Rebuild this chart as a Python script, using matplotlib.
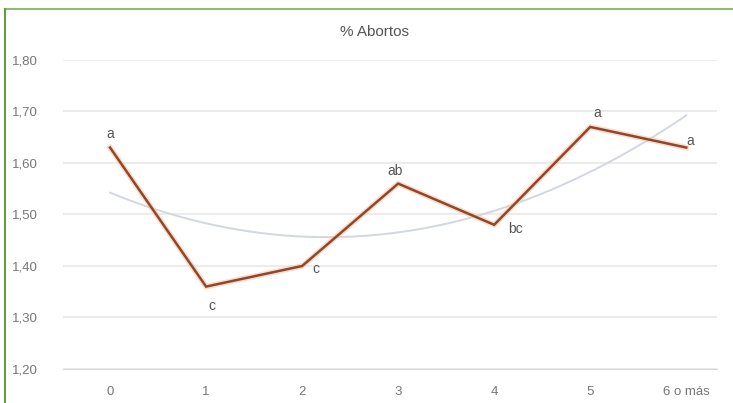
import numpy as np
import matplotlib.pyplot as plt
from matplotlib.lines import Line2D

plt.rcParams['font.family'] = ['Liberation Sans', 'DejaVu Sans']

categories = ["0", "1", "2", "3", "4", "5", "6 o más"]
abortos = [1.63, 1.36, 1.40, 1.56, 1.48, 1.67, 1.63]
letras = ["a", "c", "c", "ab", "bc", "a", "a"]
# label offsets in points (dx, dy)
offsets = [(0, 10), (4, -14), (10, -2), (-2, 9), (15, -3), (5, 10), (3, 5)]
yticks = [1.20, 1.30, 1.40, 1.50, 1.60, 1.70, 1.80]

fig = plt.figure(figsize=(7.33, 4.03), dpi=100)
W, H = 733, 403
ax = fig.add_axes([63 / W, 1 - 369 / H, (717 - 63) / W, (369 - 60) / H])

x = np.arange(len(categories))

# polynomial (order 2) trend line
coef = np.polyfit(x, abortos, 2)
xs = np.linspace(0, 6, 200)
ax.plot(xs, np.polyval(coef, xs), color='#d3d7e0', lw=1.4, zorder=2)

# main series with a soft orange halo
ax.plot(x, abortos, color='#f3c9a8', lw=4, alpha=0.6, zorder=3,
        solid_joinstyle='miter')
ax.plot(x, abortos, color='#93462e', lw=1.8, zorder=4,
        solid_joinstyle='miter')

for xi, yi, txt, (dx, dy) in zip(x, abortos, letras, offsets):
    ax.annotate(txt, (xi, yi), xytext=(dx, dy), textcoords='offset points',
                ha='center', va='center', fontsize=10, color='#555555')

ax.set_xlim(-0.49, 6.32)
ax.set_ylim(1.20, 1.80)
ax.set_yticks(yticks)
ax.set_yticklabels([f"{v:.2f}".replace('.', ',') for v in yticks])
ax.set_xticks(x)
ax.set_xticklabels(categories)
ax.tick_params(length=0, labelsize=9.5, colors='#777777', pad=12)
ax.tick_params(axis='y', pad=37)
for lbl in ax.get_yticklabels():
    lbl.set_horizontalalignment('left')

ax.grid(axis='y', color='#ececec', lw=1.5)
ax.set_axisbelow(True)
for side in ['top', 'right', 'left']:
    ax.spines[side].set_visible(False)
ax.spines['bottom'].set_color('#d8d8d8')

fig.text(375 / W, 1 - 32 / H, "% Abortos", ha='center', va='center',
         fontsize=11, color='#555555')

# green frame on top and left
fig.add_artist(Line2D([5 / W, 1], [1 - 9 / H, 1 - 9 / H], color='#93bb6c', lw=1.5))
fig.add_artist(Line2D([5 / W, 5 / W], [0, 1 - 9 / H], color='#6b9a3c', lw=1.5))

fig.savefig("out.png", dpi=100)
